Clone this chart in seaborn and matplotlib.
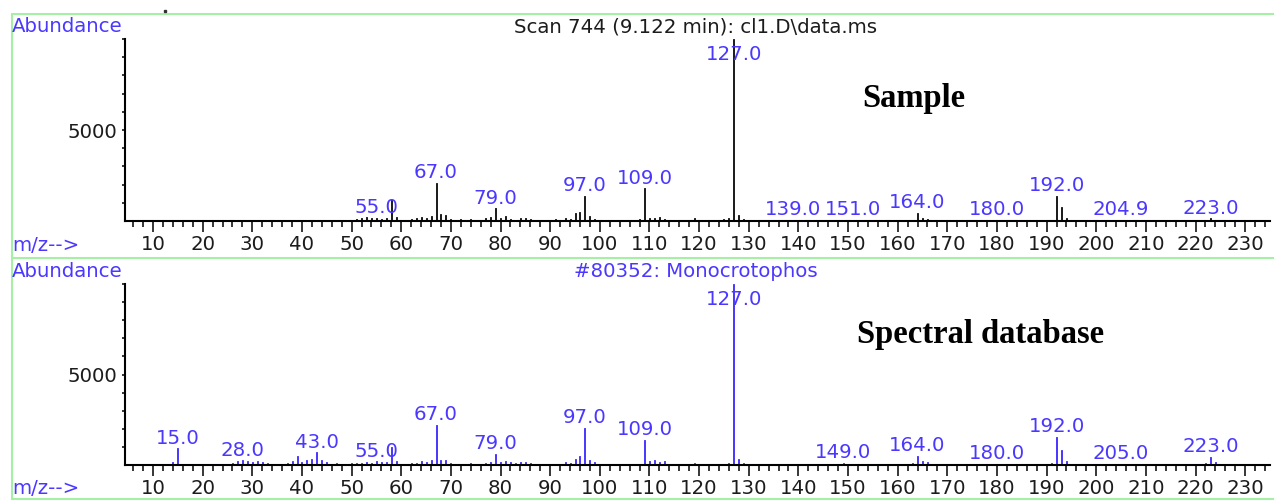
import numpy as np
import pandas as pd
import matplotlib
matplotlib.use("Agg")
import matplotlib.pyplot as plt
from matplotlib.lines import Line2D
from matplotlib.ticker import MultipleLocator, FixedLocator
import seaborn as sns

# ---------------- data ----------------
sample_mz = [50, 51, 52, 53, 54, 55, 56, 57, 58, 59, 61, 62, 63, 64, 65, 66, 67, 68, 69, 70,
             72, 74, 75, 77, 78, 79, 80, 81, 82, 84, 85, 86, 91, 93, 94, 95, 96, 97, 98, 99,
             108, 109, 110, 111, 112, 113, 115, 119, 125, 126, 127, 128, 129, 139, 151,
             163, 164, 165, 166, 180, 191, 192, 193, 194, 204.9, 222, 223, 224]
sample_ab = [80, 120, 180, 220, 150, 160, 110, 180, 1150, 200, 80, 100, 180, 220, 180, 300, 2100, 380, 320, 120,
             90, 100, 80, 150, 200, 700, 150, 250, 130, 180, 160, 120, 90, 180, 120, 420, 500, 1390, 250, 100,
             100, 1800, 180, 160, 220, 120, 80, 150, 100, 180, 9990, 330, 100, 60, 60,
             80, 440, 180, 120, 60, 80, 1390, 770, 180, 60, 80, 150, 60]
sample_labels = [55.0, 67.0, 79.0, 97.0, 109.0, 127.0, 139.0, 151.0, 164.0, 180.0, 192.0, 204.9, 223.0]

ref_mz = [14, 15, 16, 24, 26, 27, 28, 29, 30, 31, 32, 33, 36, 37, 38, 39, 40, 41, 42, 43,
          44, 45, 46, 47, 49, 50, 51, 52, 53, 54, 55, 56, 57, 58, 59, 60, 61, 62, 63, 64,
          65, 66, 67, 68, 69, 70, 72, 74, 77, 78, 79, 80, 81, 82, 83, 84, 85, 86, 91, 93,
          94, 95, 96, 97, 98, 99, 104, 107, 109, 110, 111, 112, 113, 114, 119, 121, 126, 127, 128, 129,
          136, 141, 149, 155, 160, 163, 164, 165, 166, 168, 180, 186, 191, 192, 193, 194, 196, 198,
          205, 209, 222, 223, 224, 225]
ref_ab = [150, 920, 60, 60, 120, 200, 250, 220, 180, 220, 150, 100, 80, 120, 200, 500, 180, 300, 330, 700,
          250, 150, 80, 120, 80, 100, 120, 120, 160, 120, 200, 150, 160, 1000, 200, 80, 80, 100, 120, 200,
          180, 250, 2200, 300, 280, 120, 80, 100, 120, 150, 620, 150, 200, 150, 130, 160, 140, 120, 80, 150,
          120, 350, 500, 2050, 300, 180, 80, 80, 1400, 200, 250, 180, 200, 80, 100, 60, 100, 9990, 350, 120,
          60, 60, 100, 60, 80, 120, 500, 200, 150, 60, 80, 60, 100, 1550, 830, 200, 80, 60,
          80, 60, 100, 440, 150, 80]
ref_labels = [15.0, 28.0, 43.0, 55.0, 67.0, 79.0, 97.0, 109.0, 127.0, 149.0, 164.0, 180.0, 192.0, 205.0, 223.0]

sample_title = "Scan 744 (9.122 min): cl1.D\\data.ms"
ref_title = "#80352: Monocrotophos"

# ---------------- style ----------------
sns.set_theme(style="ticks")
plt.rcParams["font.family"] = ["DejaVu Sans"]

W, H = 1274, 501
BLUE = "#4a38ff"
DARK = "#1c1c1c"
GREEN = "#a6f0a6"
FS = 14.2

fig = plt.figure(figsize=(W / 100, H / 100), dpi=100)
fig.patch.set_facecolor("white")


def fx(px):
    return px / W


def fy(py):
    return 1 - py / H


ax1 = fig.add_axes([fx(125), fy(221), (1270 - 125) / W, (221 - 39) / H])
ax2 = fig.add_axes([fx(125), fy(465), (1270 - 125) / W, (465 - 284) / H])


def draw(ax, mz, ab, labels, color):
    df = pd.DataFrame({"mz": mz, "ab": ab})
    sns.barplot(data=df, x="mz", y="ab", native_scale=True, width=0.2,
                color=color, saturation=1, errorbar=None, linewidth=0.7,
                edgecolor=color, ax=ax)
    ax.set_xlim(4.35, 235)
    ax.set_ylim(0, 10000)
    ax.set_xlabel("")
    ax.set_ylabel("")
    ax.set_facecolor("white")
    for s in ["top", "right"]:
        ax.spines[s].set_visible(False)
    for s in ["left", "bottom"]:
        ax.spines[s].set_linewidth(1.5)
        ax.spines[s].set_color("black")
    ax.xaxis.set_major_locator(FixedLocator(np.arange(10, 231, 10)))
    ax.xaxis.set_minor_locator(MultipleLocator(2))
    ax.yaxis.set_major_locator(FixedLocator([5000]))
    ax.yaxis.set_minor_locator(FixedLocator(np.arange(1000, 10001, 1000)))
    ax.tick_params(axis="x", which="major", direction="out", length=8, width=1.1,
                   color="black", labelsize=FS, labelcolor=DARK, pad=2.0)
    ax.tick_params(axis="x", which="minor", direction="out", length=4.3, width=1.1, color="black")
    ax.tick_params(axis="y", which="major", direction="out", length=2.5, width=1.1,
                   color="black", labelsize=FS, labelcolor=DARK, pad=3)
    ax.tick_params(axis="y", which="minor", direction="out", length=2, width=1.1, color="black")
    lookup = dict(zip(mz, ab))
    for lab in labels:
        h = lookup.get(lab, 0)
        ax.annotate(f"{lab:.1f}", xy=(lab, min(h, 8600)), xytext=(0, 3.4),
                    textcoords="offset points", ha="center", va="baseline",
                    color=BLUE, fontsize=FS, zorder=1)


draw(ax1, sample_mz, sample_ab, sample_labels, DARK)
draw(ax2, ref_mz, ref_ab, ref_labels, BLUE)

# ---------------- frame texts ----------------
fig.text(fx(12), fy(27), "Abundance", ha="left", va="center", color=BLUE, fontsize=FS)
fig.text(fx(12), fy(271.5), "Abundance", ha="left", va="center", color=BLUE, fontsize=FS)
fig.text(fx(12), fy(245), "m/z-->", ha="left", va="center", color=BLUE, fontsize=FS)
fig.text(fx(12), fy(489), "m/z-->", ha="left", va="center", color=BLUE, fontsize=FS)
fig.text(fx(696), fy(27), sample_title, ha="center", va="center", color=DARK, fontsize=FS)
fig.text(fx(696), fy(271.5), ref_title, ha="center", va="center", color=BLUE, fontsize=FS)

fig.text(fx(862), fy(98), "Sample", ha="left", va="center", color="black",
         fontsize=23.5, fontweight="bold", family=["Liberation Serif", "DejaVu Serif"])
fig.text(fx(857), fy(335), "Spectral database", ha="left", va="center", color="black",
         fontsize=23.5, fontweight="bold", family=["Liberation Serif", "DejaVu Serif"])

# ---------------- green frame lines ----------------
for y in [14, 258, 499]:
    fig.add_artist(Line2D([fx(12), 1.0], [fy(y), fy(y)], transform=fig.transFigure,
                          color=GREEN, lw=1.5))
fig.add_artist(Line2D([fx(12), fx(12)], [fy(14), fy(499)], transform=fig.transFigure,
                      color=GREEN, lw=1.5))
fig.add_artist(Line2D([fx(165)], [fy(11)], transform=fig.transFigure, marker="s",
                      markersize=2, color="#333333", lw=0))

fig.savefig("out.png", dpi=100, facecolor="white")
